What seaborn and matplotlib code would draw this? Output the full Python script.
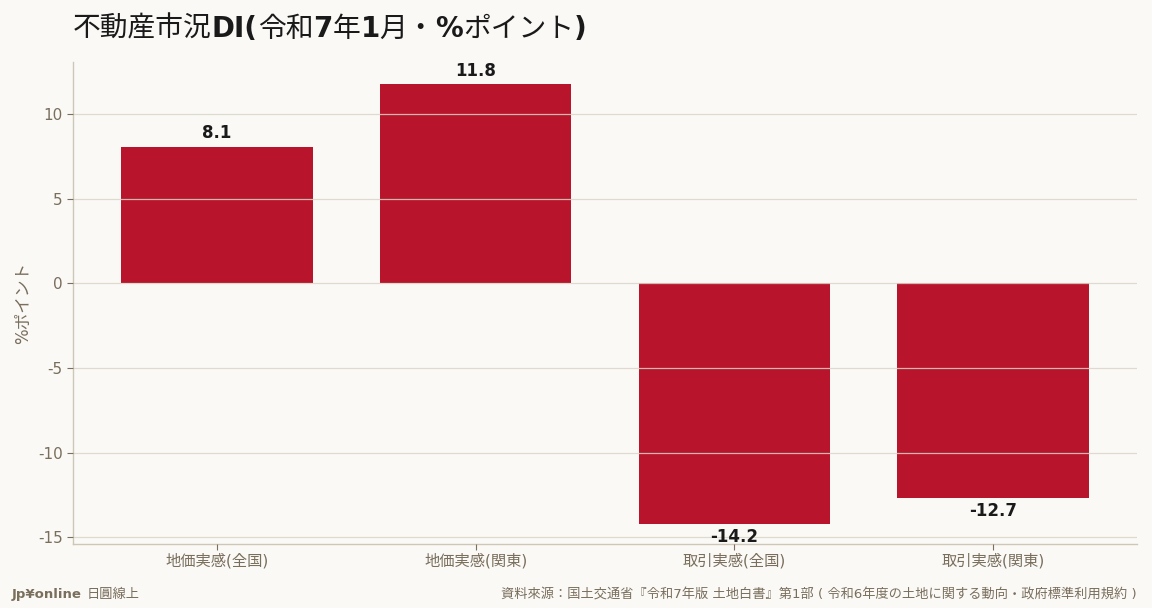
"""
Bar chart of the land market DI (令和7年1月)
"""

import seaborn as sns
import matplotlib.pyplot as plt
import pandas as pd

categories = ['地価実感(全国)', '地価実感(関東)', '取引実感(全国)', '取引実感(関東)']
values = [8.1, 11.8, -14.2, -12.7]
yticks = [-15, -10, -5, 0, 5, 10]

ylabel = '%ポイント'
brand = 'Jp¥online'
brand_sub = '日圓線上'
source = '資料來源：国土交通省『令和7年版 土地白書』第1部 ( 令和6年度の土地に関する動向・政府標準利用規約 )'

bg = '#FAF9F6'
bar_color = '#B8142C'
tick_color = '#7A6E5C'
grid_color = '#DCD5C8'
spine_color = '#CFC6B8'
text_color = '#1A1A1A'


def plot():
    df = pd.DataFrame({'category': categories, 'value': values})

    sns.set_theme(style='white')
    plt.rcParams['font.family'] = ['DejaVu Sans', 'Noto Sans CJK JP']
    plt.rcParams['axes.unicode_minus'] = False

    fig = plt.figure(figsize=(11.52, 6.08), dpi=100, facecolor=bg)
    ax = fig.add_axes([0.0634, 0.105, 0.9236, 0.793])
    ax.set_facecolor(bg)

    sns.barplot(data=df, x='category', y='value', color=bar_color,
                width=0.74, saturation=1, linewidth=0, ax=ax)

    for c in ax.containers:
        ax.bar_label(c, fmt='%.1f', padding=3, fontsize=12,
                     fontweight='bold', color=text_color)

    ax.set_xlim(-0.557, 3.557)
    ax.set_ylim(-15.42, 13.1)
    ax.set_yticks(yticks)

    # grid sits on top of the bars, as in the original
    ax.set_axisbelow(False)
    ax.yaxis.grid(True, color=grid_color, linewidth=0.9, alpha=0.85)
    ax.xaxis.grid(False)

    for side in ['top', 'right']:
        ax.spines[side].set_visible(False)
    for side in ['left', 'bottom']:
        ax.spines[side].set_color(spine_color)
        ax.spines[side].set_linewidth(1)

    ax.tick_params(axis='both', colors=tick_color, labelsize=11,
                   length=4, width=0.8, left=True, bottom=True)
    ax.tick_params(axis='x', pad=2)
    ax.set_xlabel('')
    ax.set_ylabel(ylabel, fontsize=12, color=tick_color)

    # title with mixed weights: Latin parts bold, kana/kanji regular
    parts = [('不動産市況', 'normal'), ('DI(', 'bold'), ('令和', 'normal'),
             ('7', 'bold'), ('年', 'normal'), ('1', 'bold'), ('月・', 'normal'),
             ('%', 'bold'), ('ポイント', 'normal'), (')', 'bold')]
    renderer = fig.canvas.get_renderer()
    x = 0.0634
    for txt, w in parts:
        t = fig.text(x, 0.953, txt, fontsize=20, color=text_color,
                     fontweight=w, ha='left', va='center')
        bb = t.get_window_extent(renderer=renderer)
        x += bb.width / fig.bbox.width

    t = fig.text(0.0104, 0.022, brand, fontsize=9.5, fontweight='bold',
                 color=tick_color, ha='left', va='center')
    bb = t.get_window_extent(renderer=renderer)
    fig.text(0.0104 + bb.width / fig.bbox.width + 0.004, 0.022, brand_sub,
             fontsize=9.5, color=tick_color, ha='left', va='center')
    fig.text(0.987, 0.022, source, fontsize=9.5, color=tick_color,
             ha='right', va='center')

    fig.savefig('out.png', dpi=100, facecolor=bg)


if __name__ == '__main__':
    plot()
